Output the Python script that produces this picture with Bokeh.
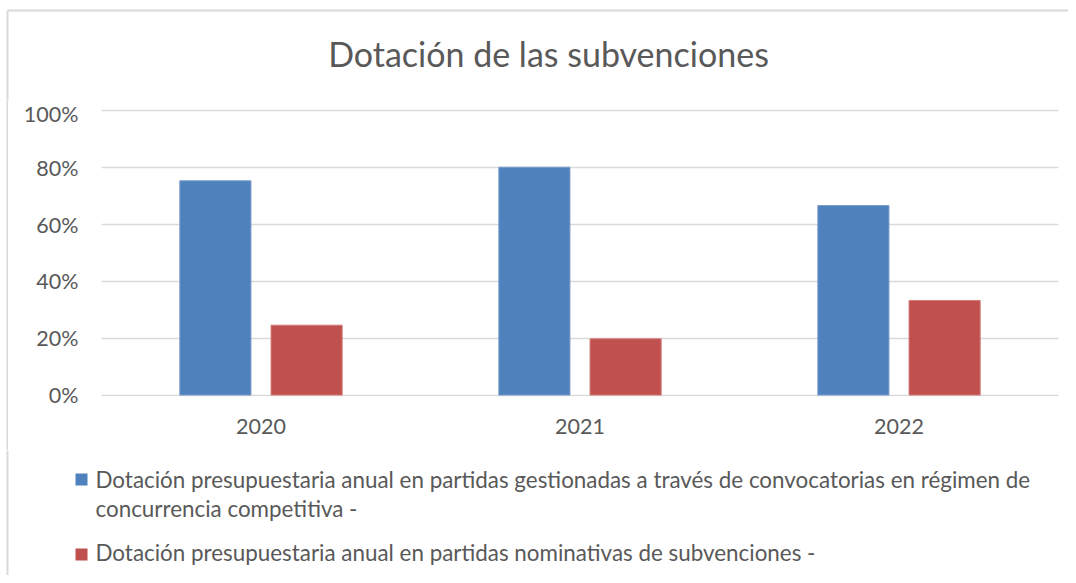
from bokeh.plotting import figure
from bokeh.layouts import column, row
from bokeh.models import (FactorRange, Range1d, NumeralTickFormatter, FixedTicker,
                          ColumnDataSource, Spacer)
from bokeh.transform import dodge
from bokeh.core.properties import value
from bokeh.embed import file_html
from bokeh.resources import INLINE

years = ["2020", "2021", "2022"]
competitiva = [0.754, 0.802, 0.667]
nominativas = [0.246, 0.198, 0.333]
series_names = [
    "Dotación presupuestaria anual en partidas gestionadas a través de convocatorias en régimen de\nconcurrencia competitiva -",
    "Dotación presupuestaria anual en partidas nominativas de subvenciones -",
]
title_text = "Dotación de las subvenciones"
y_ticks = [0, 0.2, 0.4, 0.6, 0.8, 1.0]

BLUE = "#4F81BD"
RED = "#C0504D"
TXT = "#595959"
GRID = "#D9D9D9"
FONT = "Lato"
W = 1068


def blank(width, height, x0, x1, y0, y1):
    f = figure(width=width, height=height, output_backend="svg", toolbar_location=None,
               x_axis_type=None, y_axis_type=None, x_range=Range1d(x0, x1),
               y_range=Range1d(y0, y1), min_border=0)
    f.min_border_left = f.min_border_right = f.min_border_top = f.min_border_bottom = 0
    f.outline_line_color = None
    f.grid.visible = False
    f.frame_align = False
    return f


# ---- title strip (page y 0..100, y axis points down)
top = blank(W, 100, 0, W, 100, 0)
top.segment(x0=[7, 7], y0=[10, 10], x1=[W, 7], y1=[10, 100], line_color=GRID, line_width=2)
top.text(x=[548], y=[53], text=[title_text], text_align="center",
         text_baseline="alphabetic", text_font=value(FONT), text_font_size="34px",
         text_color=TXT)

# ---- left chart-area border next to the plot (page y 100..450): a 2px grey canvas
gap = Spacer(width=6, height=350)
strip = blank(2, 350, 0, 1, 0, 1)
strip.background_fill_color = GRID
strip.border_fill_color = GRID

# ---- main chart
src = ColumnDataSource(dict(year=years, a=competitiva, b=nominativas))
p = figure(width=W - 8, height=350, output_backend="svg", toolbar_location=None,
           x_range=FactorRange(*years, range_padding=0), y_range=Range1d(-0.005, 1.005),
           min_border_left=93, min_border_right=10, min_border_top=9,
           min_border_bottom=54)
p.frame_align = False
p.outline_line_color = None
p.vbar(x=dodge("year", -0.143, range=p.x_range), top="a", width=0.223, source=src,
       fill_color=BLUE, line_color="#7A9CCB", line_width=1)
p.vbar(x=dodge("year", 0.143, range=p.x_range), top="b", width=0.223, source=src,
       fill_color=RED, line_color="#D07C7A", line_width=1)

p.yaxis.ticker = FixedTicker(ticks=y_ticks)
p.yaxis.formatter = NumeralTickFormatter(format="0%")
for ax in (p.xaxis[0], p.yaxis[0]):
    ax.axis_line_color = None
    ax.major_tick_line_color = None
    ax.minor_tick_line_color = None
    ax.major_label_text_font = FONT
    ax.major_label_text_font_size = "21.5px"
    ax.major_label_text_color = TXT
p.yaxis.major_label_standoff = 17
p.xaxis.major_label_standoff = 16
p.xgrid.grid_line_color = None
p.ygrid.grid_line_color = GRID
p.ygrid.grid_line_width = 1.5

# ---- legend strip (page y 450..575, y axis points down)
leg = blank(W, 125, 0, W, 575, 450)
leg.segment(x0=[7], y0=[450], x1=[7], y1=[575], line_color=GRID, line_width=2)
colors = [BLUE, RED]
square_tops = [473, 548]
first_baselines = [479, 552]
line_gap = 29
txt_x = 95
for name, c, base, st in zip(series_names, colors, first_baselines, square_tops):
    leg.quad(left=[75], right=[87], top=[st], bottom=[st + 12], fill_color=c,
             line_color=None)
    lines = name.split("\n")
    leg.text(x=[txt_x] * len(lines), y=[base + i * line_gap for i in range(len(lines))],
             text=lines, text_align="left", text_baseline="alphabetic",
             text_font=value(FONT), text_font_size="22.4px", text_color=TXT)

layout = column(top, row(gap, strip, p), leg)
open("out.html", "w").write(file_html(layout, INLINE))
